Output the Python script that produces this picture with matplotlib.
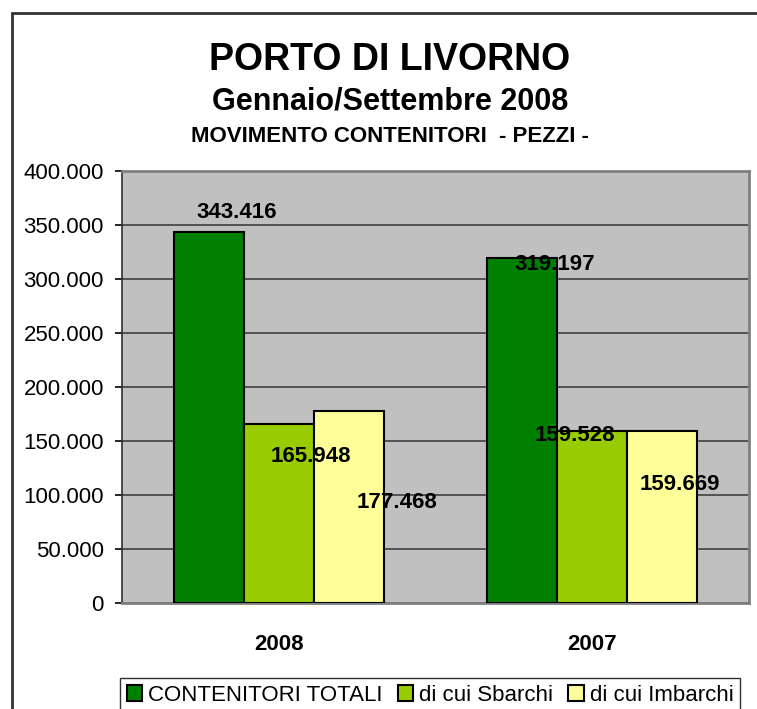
import matplotlib
matplotlib.use("Agg")
import matplotlib.pyplot as plt
import numpy as np
from matplotlib.patches import Rectangle
from matplotlib.ticker import FuncFormatter

plt.rcParams['font.family'] = ['Liberation Sans', 'DejaVu Sans']

# data
years = ['2008', '2007']
series_names = ['CONTENITORI TOTALI', 'di cui Sbarchi', 'di cui Imbarchi']
totali = [343416, 319197]
sbarchi = [165948, 159528]
imbarchi = [177468, 159669]
series_colors = ['#008000', '#99CC00', '#FFFF99']

# where Excel put the value labels (offset from bar top, in category units / data units)
label_dx = [[0.088, 0.102], [0.102, -0.057], [0.153, 0.057]]
label_dy = [[18000, -6000], [-30000, -4000], [-84000, -50000]]

fig = plt.figure(figsize=(7.57, 7.09), dpi=100)
ax = fig.add_axes([122 / 757, 1 - 603 / 709, 627 / 757, 432 / 709])
ax.set_facecolor('#C0C0C0')

x = np.arange(len(years))
width = 0.223
values = [totali, sbarchi, imbarchi]
for i, (vals, name, col) in enumerate(zip(values, series_names, series_colors)):
    pos = x + (i - 1) * width
    ax.bar(pos, vals, width, color=col, edgecolor='black', linewidth=1.5,
           label=name, zorder=3)
    for j, v in enumerate(vals):
        txt = f"{v:,}".replace(',', '.')
        ax.text(pos[j] + label_dx[i][j], v + label_dy[i][j], txt,
                ha='center', va='center', fontsize=16, fontweight='bold', zorder=4)

ax.set_xlim(-0.5, 1.5)
ax.set_ylim(0, 400000)
ax.set_yticks(np.arange(0, 400001, 50000))
ax.yaxis.set_major_formatter(FuncFormatter(lambda v, p: f"{int(v):,}".replace(',', '.')))
ax.yaxis.grid(True, color='#404040', linewidth=1.2, zorder=0)
ax.set_axisbelow(True)
ax.set_xticks(x)
ax.set_xticklabels(years, fontsize=16, fontweight='bold')
ax.tick_params(axis='x', length=0, pad=22)
ax.tick_params(axis='y', labelsize=16, length=5, width=1.2, pad=8, direction='out')

for side in ['top', 'right', 'bottom']:
    ax.spines[side].set_color('#808080')
    ax.spines[side].set_linewidth(2)
ax.spines['left'].set_color('#303030')
ax.spines['left'].set_linewidth(1.2)

title_x = 390 / 757
fig.text(title_x, 1 - 60 / 709, 'PORTO DI LIVORNO', ha='center', va='center',
         fontsize=27, fontweight='bold')
fig.text(title_x, 1 - 101 / 709, 'Gennaio/Settembre 2008', ha='center', va='center',
         fontsize=22, fontweight='bold')
fig.text(title_x, 1 - 136 / 709, 'MOVIMENTO CONTENITORI  - PEZZI -', ha='center', va='center',
         fontsize=16, fontweight='bold')

# outer chart frame (partly cut off like the reference)
fig.patches.append(Rectangle((12 / 757, -0.1), 1.0, 1 - 13 / 709 + 0.1,
                             transform=fig.transFigure, fill=False,
                             edgecolor='#333333', linewidth=2))

leg = fig.legend(loc='upper left', bbox_to_anchor=(120 / 757, 1 - 678 / 709),
                 ncol=3, fontsize=16, frameon=True, fancybox=False,
                 edgecolor='black', handlelength=0.7, handleheight=0.7,
                 handletextpad=0.25, columnspacing=0.7, borderpad=0.3,
                 borderaxespad=0)
leg.get_frame().set_linewidth(1)
for h in leg.legend_handles:
    h.set_linewidth(1.5)

fig.savefig('out.png', dpi=100)
